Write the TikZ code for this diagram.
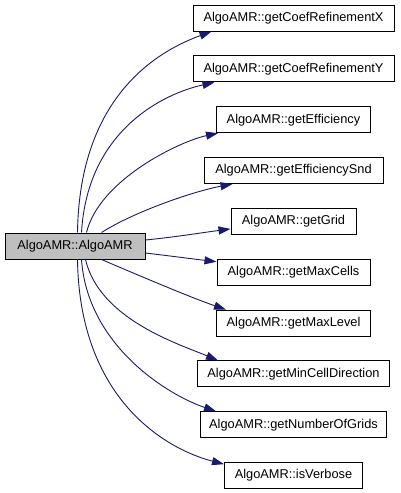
\documentclass[tikz,border=0pt]{standalone}
\usepackage{fontspec}
\setmainfont{Liberation Sans}
\usepackage{tikz}
\usetikzlibrary{arrows.meta,positioning,calc}
\definecolor{callblue}{RGB}{25,25,112}
\definecolor{mainfill}{RGB}{191,191,191}

\begin{document}
\begin{tikzpicture}[x=1pt,y=-1pt,
  fn/.style={draw=black,fill=white,line width=1pt,minimum height=26pt,inner sep=0pt,
    font=\fontsize{12.8}{14}\selectfont},
  call/.style={callblue,line width=0.9pt,-{Triangle[length=12pt,width=8pt]}}]
\useasboundingbox (0,0) rectangle (400,493);
% Caller
\node[fn,fill=mainfill,minimum width=140pt] (algo) at (75,246) {AlgoAMR::AlgoAMR};
% Callees, one column
\foreach \name/\txt/\w [count=\i from 0] in {
    coefX/getCoefRefinementX/201, coefY/getCoefRefinementY/201,
    eff/getEfficiency/154, effSnd/getEfficiencySnd/179,
    grid/getGrid/125, maxCells/getMaxCells/153,
    maxLevel/getMaxLevel/154, minCell/getMinCellDirection/192,
    numGrids/getNumberOfGrids/186, verbose/isVerbose/138} {
  \node[fn,minimum width=\w pt] (\name) at (293.5,{18+50.85*\i}) {AlgoAMR::\txt};
}
% Calls leaving the top edge
\draw[call] ($(algo.north west)+(73,0)$) .. controls +(2,-138) and +(-52,19) .. ($(coefX.south west)+(19,0)$);
\draw[call] ($(algo.north west)+(77,0)$) .. controls +(6,-103) and +(-50,11) .. ($(coefY.south west)+(22,0)$);
\draw[call] ($(algo.north west)+(82,0)$) .. controls +(13,-53) and +(-38,8) .. ($(eff.south west)+(2,0)$);
\draw[call] ($(algo.north west)+(97,0)$) .. controls +(33,-21) and +(-38,7) .. ($(effSnd.south west)+(29,0)$);
% Calls leaving the right edge
\draw[call] ($(algo.east)+(0,-6)$) .. controls +(30,-3) and +(-30,4) .. ($(grid.south west)+(0,-6)$);
\draw[call] ($(algo.east)+(0,7)$) .. controls +(25,3) and +(-25,-3) .. ($(maxCells.north west)+(0,3)$);
% Calls leaving the bottom edge
\draw[call] ($(algo.south west)+(97,0)$) .. controls +(35,15) and +(-35,-12) .. ($(maxLevel.north west)+(10,0)$);
\draw[call] ($(algo.south west)+(81,0)$) .. controls +(14,60) and +(-38,-16) .. ($(minCell.north west)+(21,0)$);
\draw[call] ($(algo.south west)+(77,0)$) .. controls +(6,85) and +(-50,-17) .. ($(numGrids.north west)+(16,0)$);
\draw[call] ($(algo.south west)+(73,0)$) .. controls +(2,140) and +(-58,-15) .. ($(verbose.north west)+(0,2)$);
\end{tikzpicture}
\end{document}
